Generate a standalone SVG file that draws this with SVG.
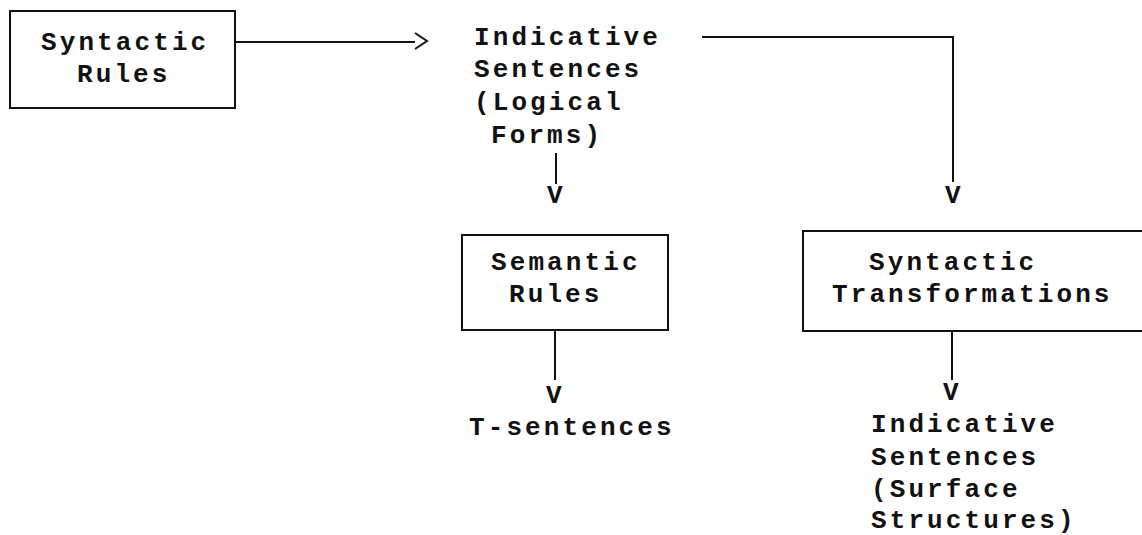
<svg xmlns="http://www.w3.org/2000/svg" width="1142" height="535" viewBox="0 0 1142 535">
  <style>
    .t { font-family: "Liberation Mono", "DejaVu Sans Mono", monospace; font-size: 26px; font-weight: bold; letter-spacing: 3.1px; fill: #111; }
    .box { fill: none; stroke: #111; stroke-width: 2; }
    .ln { fill: none; stroke: #111; stroke-width: 2; }
  </style>
  <rect width="1142" height="535" fill="#fff"/>

  <!-- connectors: typewriter rules ending in "V" / ">" heads -->
  <g id="connectors">
    <path class="ln" d="M235 42 H415"/>
    <path class="ln" d="M415 33 L427 41 L415 49"/>
    <path class="ln" d="M702 37 H953 V182"/>
    <text class="t" x="945" y="203">V</text>
    <path class="ln" d="M556 153 V184"/>
    <text class="t" x="547" y="203">V</text>
    <path class="ln" d="M555 330 V380"/>
    <text class="t" x="546" y="403">V</text>
    <path class="ln" d="M952 332 V380"/>
    <text class="t" x="943" y="400">V</text>
  </g>

  <g id="syntactic-rules">
    <rect class="box" x="10" y="11" width="225" height="97"/>
    <text class="t" x="41" y="50">Syntactic</text>
    <text class="t" x="77" y="82">Rules</text>
  </g>

  <g id="logical-forms">
    <text class="t" x="474" y="45">Indicative</text>
    <text class="t" x="474" y="77">Sentences</text>
    <text class="t" x="474" y="110">(Logical</text>
    <text class="t" x="491" y="143">Forms)</text>
  </g>

  <g id="semantic-rules">
    <rect class="box" x="462" y="235" width="206" height="95"/>
    <text class="t" x="491" y="270">Semantic</text>
    <text class="t" x="509" y="302">Rules</text>
  </g>

  <g id="t-sentences">
    <text class="t" x="469" y="435">T-sentences</text>
  </g>

  <g id="syntactic-transformations">
    <rect class="box" x="803" y="231" width="360" height="100"/>
    <text class="t" x="869" y="270">Syntactic</text>
    <text class="t" x="832" y="302">Transformations</text>
  </g>

  <g id="surface-structures">
    <text class="t" x="871" y="432">Indicative</text>
    <text class="t" x="871" y="465">Sentences</text>
    <text class="t" x="871" y="497">(Surface</text>
    <text class="t" x="871" y="528">Structures)</text>
  </g>
</svg>
